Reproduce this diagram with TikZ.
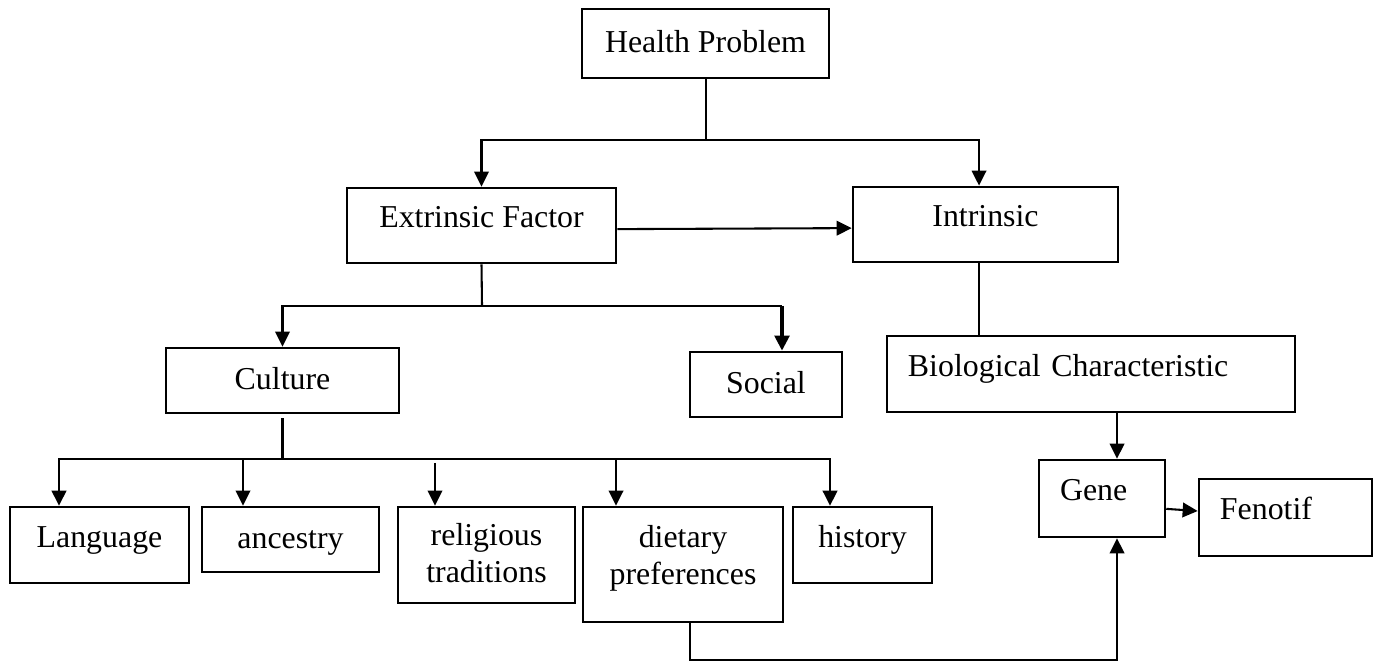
\documentclass[tikz,border=0pt]{standalone}
\usepackage{fontspec}
\setmainfont{Liberation Serif}
\usetikzlibrary{arrows.meta}

\begin{document}
\begin{tikzpicture}[x=0.386pt,y=-0.386pt]
\tikzset{box/.style = {draw,line width=1pt,inner sep=0pt,text height=9pt,text depth=2pt,align=center,font=\fontsize{12.3pt}{14.3pt}\selectfont}}
\tikzset{boxup/.style = {box,text depth=7.4pt}}
\tikzset{lbox/.style = {boxup,align=left,inner xsep=8.1pt}}
\tikzset{line/.style = {line width=0.8pt}}
\tikzset{edge/.style = {line,-{Triangle[length=5.8pt,width=5.6pt]}}}
\useasboundingbox (0,0) rectangle (1378,661);
% boxes
\node[box,minimum width=95.3pt,minimum height=26.6pt]   (hp)   at (705.5,43.5)  {Health Problem};
\node[boxup,minimum width=103.8pt,minimum height=29pt]  (ext)  at (481.5,225.5) {Extrinsic Factor};
\node[boxup,minimum width=102.3pt,minimum height=29pt]  (intr) at (985.5,224.5) {Intrinsic};
\node[box,minimum width=90pt,minimum height=25.1pt]     (cult) at (282.5,380.5) {Culture};
\node[box,minimum width=58.7pt,minimum height=25.1pt]   (soc)  at (766,384.5)   {Social};
\node[lbox,text width=141.3pt,minimum height=29.3pt]    (bio)  at (1091,374)    {Biological Characteristic};
\node[lbox,text width=32.4pt,minimum height=29.7pt]     (gene) at (1102,498.5)  {Gene};
\node[lbox,text width=50.6pt,minimum height=29.7pt]     (fen)  at (1285.5,517.5) {Fenotif};
\node[boxup,minimum width=69.1pt,minimum height=29.3pt] (lang) at (99.5,545)    {Language};
\node[box,minimum width=68.3pt,minimum height=25.1pt]   (anc)  at (290.5,539.5) {ancestry};
\node[box,minimum width=68.3pt,minimum height=37.1pt,text height=23.3pt,text depth=2pt] (rel)  at (486.5,555) {religious\\traditions};
\node[box,minimum width=77.2pt,minimum height=44.4pt,text height=23.3pt,text depth=8.2pt] (diet) at (683,564.5) {dietary\\preferences};
\node[boxup,minimum width=53.7pt,minimum height=29.3pt] (hist) at (862.5,545)   {history};
% junctions
\coordinate (hpb) at (706,140);
\coordinate (exb) at (482,306);
\coordinate (sx)  at (782,306);
\coordinate (cb)  at (282.5,459);
\coordinate (bl)  at (59,0);
\coordinate (ba)  at (243,0);
\coordinate (br)  at (435,463);
\coordinate (bd)  at (616,0);
\coordinate (bh)  at (830,0);
\coordinate (ibx) at (979,0);
\coordinate (gx)  at (1117,660);
\coordinate (dx)  at (690,660);
% edges
\draw[line] (hp.south -| hpb) -- (hpb);
\draw[edge] (hpb) -| (ext.north);
\draw[edge] (hpb) -| ([xshift=-2.5pt]intr.north);
\draw[edge] ([yshift=-1.4pt]ext.east) -- ([yshift=-1.4pt]intr.west);
\draw[line] (ext.south) -- (exb);
\draw[edge] (exb) -| (cult.north);
\draw[line] (exb) -- (sx);
\draw[edge,line width=1.4pt] (sx) -- (sx |- soc.north);
\draw[line] (intr.south -| ibx) -- (bio.north -| ibx);
\draw[line] ([yshift=-1.5pt]cult.south) -- (cb);
\draw[edge] (cb) -| (bl |- lang.north);
\draw[edge] (cb) -| (ba |- anc.north);
\draw[edge] (br) -- (br |- rel.north);
\draw[edge] (cb) -| (bd |- diet.north);
\draw[edge] (cb) -| (bh |- hist.north);
\draw[edge] (bio.south -| gx) -- (gene.north -| gx);
\draw[edge] ([yshift=-4pt]gene.east) -- ([yshift=2.5pt]fen.west);
\draw[edge] (diet.south -| dx) -- (dx) -- (gx) -- (gene.south -| gx);
\end{tikzpicture}
\end{document}
